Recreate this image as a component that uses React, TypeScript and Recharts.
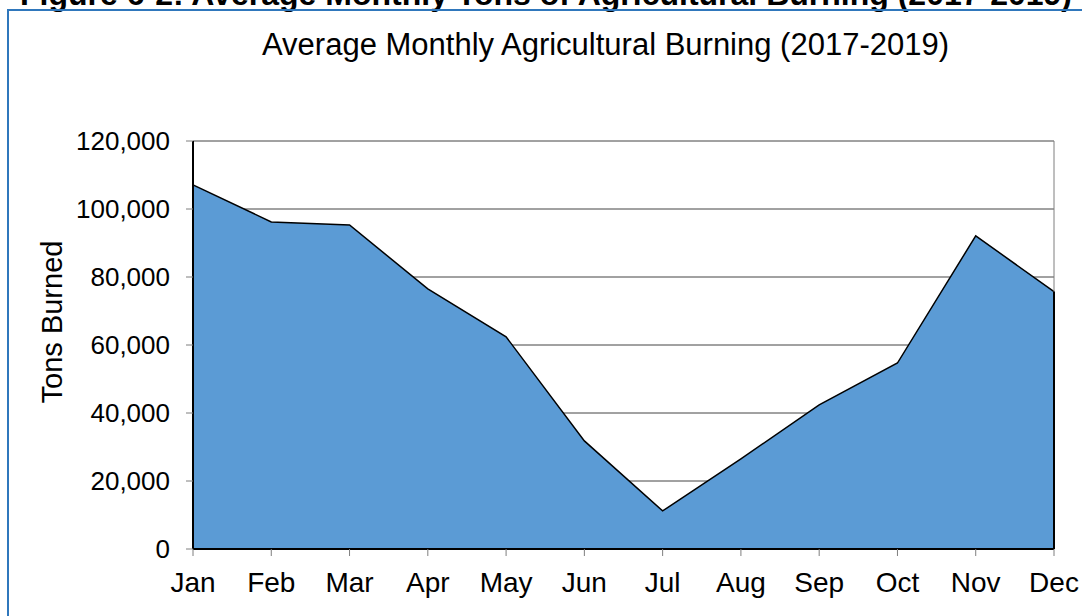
import { AreaChart, Area, XAxis, YAxis, CartesianGrid, ReferenceLine } from 'recharts';

const months = ['Jan', 'Feb', 'Mar', 'Apr', 'May', 'Jun', 'Jul', 'Aug', 'Sep', 'Oct', 'Nov', 'Dec'];
const tonsBurned = [107100, 96200, 95300, 76500, 62400, 31800, 11200, 26500, 42400, 54700, 92100, 75700];
const yTicks = [0, 20000, 40000, 60000, 80000, 100000, 120000];

const data = months.map((m, i) => ({ month: m, tons: tonsBurned[i] }));
const last = data[data.length - 1];

const font = '"Liberation Sans", Arial, sans-serif';

export default function App() {
  return (
    <div style={{ position: 'absolute', left: 0, top: 0, width: 1082, height: 616, overflow: 'hidden', background: '#fff', fontFamily: font }}>
      <div style={{ position: 'absolute', left: 20, top: -24, fontSize: 32, fontWeight: 'bold', whiteSpace: 'nowrap' }}>
        Figure 6-2: Average Monthly Tons of Agricultural Burning (2017-2019)
      </div>
      <div style={{ position: 'absolute', left: 7, top: 9, width: 1100, height: 700, border: '2px solid #2f77bc' }} />
      <div style={{ position: 'absolute', left: 262, top: 27, fontSize: 31, whiteSpace: 'nowrap' }}>
        Average Monthly Agricultural Burning (2017-2019)
      </div>
      <div style={{ position: 'absolute', left: 52, top: 322, fontSize: 29, whiteSpace: 'nowrap', transform: 'translate(-50%, -50%) rotate(-90deg)' }}>
        Tons Burned
      </div>
      <div style={{ position: 'absolute', left: 0, top: 0 }}>
        <AreaChart width={1082} height={616} data={data} margin={{ top: 141, right: 28, bottom: 7, left: 93 }}>
          <CartesianGrid vertical={false} stroke="#444" strokeWidth={1} />
          <XAxis
            dataKey="month"
            height={60}
            tick={{ fontSize: 28, fill: '#000', fontFamily: font }}
            tickSize={7}
            tickLine={{ stroke: '#7f7f7f' }}
            axisLine={false}
            tickMargin={16}
            interval={0}
          />
          <YAxis
            width={100}
            domain={[0, 120000]}
            ticks={yTicks}
            tick={{ fontSize: 26, fill: '#000', fontFamily: font }}
            tickSize={7}
            tickLine={{ stroke: '#7f7f7f' }}
            axisLine={false}
            tickMargin={16}
            tickFormatter={(v: number) => v.toLocaleString('en-US')}
          />
          <ReferenceLine x="Dec" stroke="#7f7f7f" strokeWidth={1} />
          <Area
            type="linear"
            dataKey="tons"
            stroke="#000"
            strokeWidth={1.5}
            fill="#5b9bd5"
            fillOpacity={1}
            isAnimationActive={false}
          />
          <ReferenceLine segment={[{ x: 'Dec', y: 0 }, { x: 'Dec', y: last.tons }]} stroke="#000" strokeWidth={2} />
          <ReferenceLine x="Jan" stroke="#000" strokeWidth={2} />
          <ReferenceLine y={0} stroke="#000" strokeWidth={2} />
        </AreaChart>
      </div>
    </div>
  );
}
